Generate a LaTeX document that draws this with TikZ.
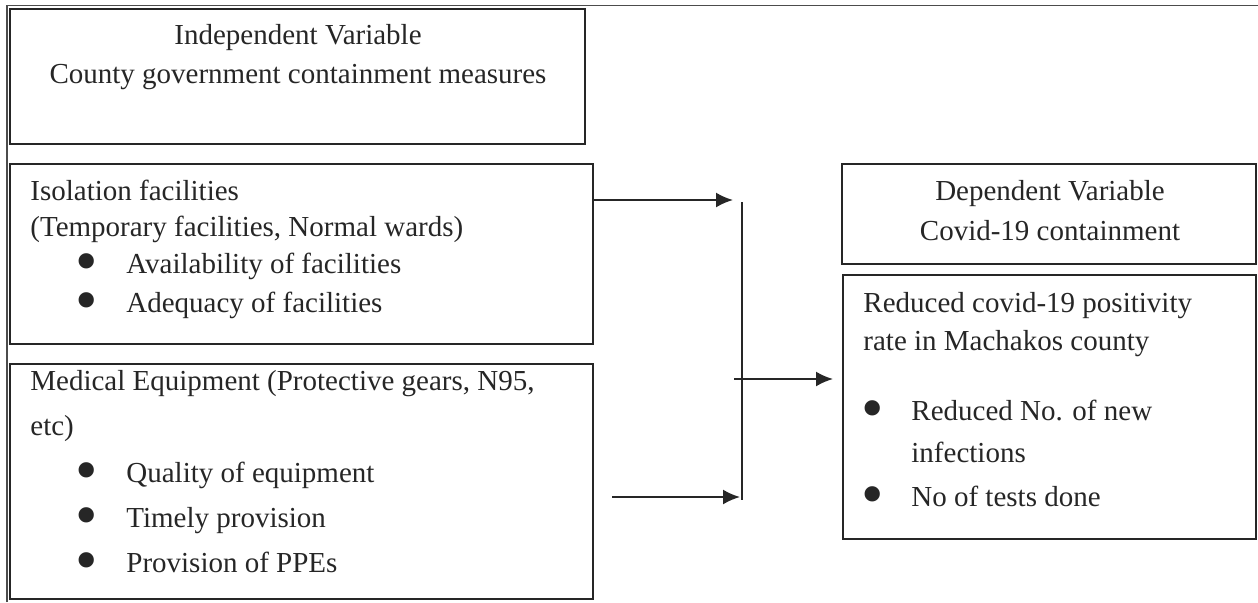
\documentclass[tikz,border=0pt]{standalone}
\usepackage{fontspec}
\setmainfont{Liberation Serif}
\usetikzlibrary{arrows.meta,positioning,calc}

\newcommand{\bigdot}{\raisebox{-4.7pt}[0pt][0pt]{\fontsize{32}{18}\selectfont\textbullet}}

\begin{document}
\begin{tikzpicture}[x=0.5pt,y=-0.5pt,>={Latex[length=8.5pt,width=7.5pt]},
        box/.style={draw=black!85,line width=1pt,inner sep=0pt,anchor=north west},
        txt/.style={anchor=base west,inner sep=0pt,text=black!85,font=\fontsize{14.5}{18}\selectfont},
        ctxt/.style={txt,anchor=base},
        arr/.style={->,draw=black!85,line width=1pt},
        bul/.style={txt,anchor=base west}]
    \useasboundingbox (0,0) rectangle (1258,602);

    % table border
    \draw[black!70,line width=0.6pt] (7,602) -- (7,5.5) -- (1258,5.5);

    % boxes
    \node[box,minimum width=287.5pt,minimum height=67.5pt] (iv) at (9,8) {};
    \node[box,minimum width=291.5pt,minimum height=90pt] (iso) at (9,163) {};
    \node[box,minimum width=291.5pt,minimum height=117.5pt] (med) at (9,363) {};
    \node[box,minimum width=207pt,minimum height=50pt] (dv) at (841,163) {};
    \node[box,minimum width=206.5pt,minimum height=132pt] (out) at (842,274) {};

    % texts
    \node[ctxt] (iv1) at (298,44) {Independent Variable};
    \node[ctxt] (iv2) at (298,83) {County government containment measures};

    \node[txt] (iso1) at (30,200) {Isolation facilities};
    \node[txt] (iso2) at (30,236) {(Temporary facilities, Normal wards)};
    \node[bul] (iso3) at (75,273) {\makebox[25.5pt][l]{\bigdot}Availability of facilities};
    \node[bul] (iso4) at (75,312) {\makebox[25.5pt][l]{\bigdot}Adequacy of facilities};

    \node[txt] (med1) at (30,390) {Medical Equipment (Protective gears, N95,};
    \node[txt] (med2) at (30,435) {etc)};
    \node[bul] (med3) at (75,482) {\makebox[25.5pt][l]{\bigdot}Quality of equipment};
    \node[bul] (med4) at (75,527) {\makebox[25.5pt][l]{\bigdot}Timely provision};
    \node[bul] (med5) at (75,572) {\makebox[25.5pt][l]{\bigdot}Provision of PPEs};

    \node[ctxt] (dv1) at (1050,200) {Dependent Variable};
    \node[ctxt] (dv2) at (1050,240) {Covid-19 containment};

    \node[txt] (out1) at (863,312) {Reduced covid-19 positivity};
    \node[txt] (out2) at (863,350) {rate in Machakos county};
    \node[bul] (out3) at (861,420) {\makebox[25pt][l]{\bigdot}Reduced No. of new};
    \node[txt] (out4) at (911,462) {infections};
    \node[bul] (out5) at (861,506) {\makebox[25pt][l]{\bigdot}No of tests done};

    % connectors
    \coordinate (top) at (733,200);
    \coordinate (vt) at (742,202);
    \coordinate (vb) at (742,500);
    \coordinate (mid) at (734,379);
    \coordinate (low0) at (612,497);
    \coordinate (low1) at (740,497);

    \draw[arr] (iso.east |- top) -- (top);
    \draw[draw=black!85,line width=0.8pt] (vt) -- (vb);
    \draw[arr,shorten >=4.5pt] (mid) -- (out.west |- mid);
    \draw[arr] (low0) -- (low1);
\end{tikzpicture}
\end{document}
